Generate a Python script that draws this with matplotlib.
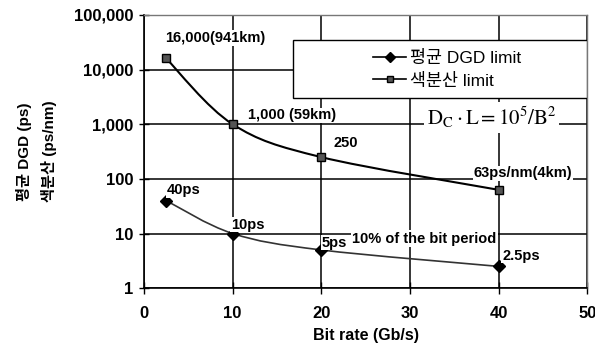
import numpy as np
import matplotlib
matplotlib.use("Agg")
import matplotlib.pyplot as plt
from matplotlib.path import Path
from matplotlib.patches import PathPatch, Rectangle
from matplotlib.lines import Line2D

plt.rcParams['font.family'] = ['Liberation Sans', 'Noto Sans CJK KR', 'DejaVu Sans']
plt.rcParams['mathtext.fontset'] = 'stix'

# ---- data ----
bit_rate = [2.5, 10, 20, 40]
dgd_limit = [40, 10, 5, 2.5]
disp_limit = [16000, 1000, 250, 63]
dgd_labels = ["40ps", "10ps", "5ps", "2.5ps"]
disp_labels = ["16,000(941km)", "1,000 (59km)", "250", "63ps/nm(4km)"]
x_ticks = [0, 10, 20, 30, 40, 50]
y_ticks = [1, 10, 100, 1000, 10000, 100000]
y_tick_labels = ["1", "10", "100", "1,000", "10,000", "100,000"]
legend_labels = ["평균 DGD limit", "색분산 limit"]
y_label = "평균 DGD (ps)\n색분산 (ps/nm)"
x_label = "Bit rate (Gb/s)"

fig = plt.figure(figsize=(5.95, 3.48), dpi=100)
ax = fig.add_axes([0.242, 0.172, 0.745, 0.785])
ax.set_yscale('log')
ax.set_xlim(0, 50)
ax.set_ylim(1, 100000)


def smooth_path(xs, ys):
    # Catmull-Rom style smoothing (like a spreadsheet "smoothed line") in x / log-y space
    u = np.asarray(xs, float)
    v = np.log10(np.asarray(ys, float))
    n = len(u)
    verts = [(u[0], v[0])]
    codes = [Path.MOVETO]
    for i in range(n - 1):
        p0 = (u[i - 1], v[i - 1]) if i > 0 else (u[i], v[i])
        p1 = (u[i], v[i])
        p2 = (u[i + 1], v[i + 1])
        p3 = (u[i + 2], v[i + 2]) if i + 2 < n else (u[i + 1], v[i + 1])
        c1 = (p1[0] + (p2[0] - p0[0]) / 6, p1[1] + (p2[1] - p0[1]) / 6)
        c2 = (p2[0] - (p3[0] - p1[0]) / 6, p2[1] - (p3[1] - p1[1]) / 6)
        verts += [c1, c2, p2]
        codes += [Path.CURVE4] * 3
    verts = [(a, 10 ** b) for a, b in verts]
    return Path(verts, codes)


ax.add_patch(PathPatch(smooth_path(bit_rate, dgd_limit), fc='none', ec='#333333', lw=1.2, zorder=3))
ax.add_patch(PathPatch(smooth_path(bit_rate, disp_limit), fc='none', ec='black', lw=1.5, zorder=3))
ax.plot(bit_rate, dgd_limit, ls='none', marker='D', ms=6, color='black', zorder=5)
ax.plot(bit_rate, disp_limit, ls='none', marker='s', ms=6, mfc='#555555', mec='black', zorder=5)

# grid
ax.set_xticks(x_ticks)
ax.set_yticks(y_ticks)
ax.set_yticklabels(y_tick_labels)
ax.minorticks_off()
ax.grid(True, color='black', lw=1.1)
ax.set_axisbelow(True)
for s in ['top', 'right']:
    ax.spines[s].set_linestyle((0, (1, 1)))
    ax.spines[s].set_color('#777777')
    ax.spines[s].set_linewidth(1)
for s in ['left', 'bottom']:
    ax.spines[s].set_color('black')
    ax.spines[s].set_linewidth(1.2)
ax.tick_params(axis='y', direction='inout', length=7, width=1, labelsize=12, pad=4)
ax.tick_params(axis='x', direction='inout', length=8, width=1, labelsize=12, pad=9)
for lab in ax.get_xticklabels() + ax.get_yticklabels():
    lab.set_fontweight('bold')

ax.set_xlabel(x_label, fontsize=11.5, fontweight='bold', labelpad=5)
ax.set_ylabel(y_label, fontsize=11, fontweight='bold', labelpad=12, linespacing=1.7)

# annotations
fs = 10.5
disp_pos = [(2.4, 38000), (11.7, 1460), (21.4, 450), (37.2, 126)]
for (tx, ty), t in zip(disp_pos, disp_labels):
    ax.text(tx, ty, t, fontsize=fs, fontweight='bold', va='center', ha='left', zorder=6,
            bbox=dict(fc='white', ec='none', pad=0.5))
dgd_pos = [(2.6, 62), (9.8, 14.6), (20.0, 6.8), (40.4, 3.95)]
for (tx, ty), t in zip(dgd_pos, dgd_labels):
    ax.text(tx, ty, t, fontsize=fs, fontweight='bold', va='center', ha='left', zorder=6,
            bbox=dict(fc='white', ec='none', pad=0.5))
ax.text(23.5, 8.1, "10% of the bit period", fontsize=fs, fontweight='bold', va='center', ha='left',
        zorder=6, bbox=dict(fc='white', ec='none', pad=1))
ax.text(31.9, 1350, r'$\mathrm{D_C \cdot L = 10^5/B^2}$', fontsize=15, va='center', ha='left',
        zorder=6, bbox=dict(fc='white', ec='none', pad=2))

# legend box
ax.add_patch(Rectangle((0.336, 0.696), 0.664, 0.212, transform=ax.transAxes, fc='white',
                       ec='black', lw=1, zorder=7))
handles = [Line2D([], [], color='black', lw=1.2, marker='D', ms=5),
           Line2D([], [], color='black', lw=1.2, marker='s', ms=5, mfc='#555555', mec='black')]
leg = ax.legend(handles, legend_labels, loc='center', bbox_to_anchor=(0.684, 0.802),
                frameon=False, fontsize=12.5, handlelength=1.9, handletextpad=0.2,
                labelspacing=0.4, borderpad=0.2)
leg.set_zorder(8)

fig.savefig('out.png', dpi=100)
